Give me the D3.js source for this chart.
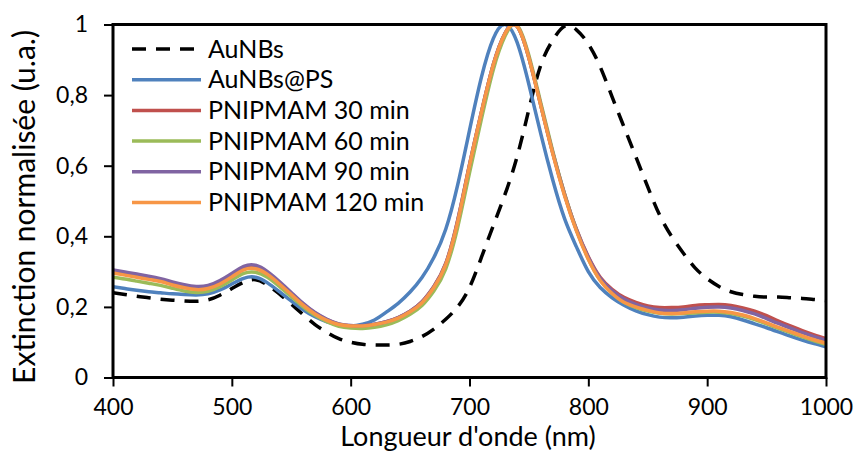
<!DOCTYPE html>
<meta charset="utf-8">
<script src="https://d3js.org/d3.v7.min.js"></script>
<style>
  body { margin: 0; background: #fff; }
  text { font-family: Lato, "Open Sans", sans-serif; fill: #000; }
</style>
<div id="my_dataviz"></div>
<script>
  // wavelengths (nm), one point every 10 nm
  var wavelengths = d3.range(400, 1001, 10);

  var auNBs = [0.240, 0.235, 0.230, 0.226, 0.222, 0.219, 0.217, 0.216, 0.220, 0.233,
    0.252, 0.270, 0.277, 0.262, 0.237, 0.208, 0.178, 0.150, 0.128, 0.110,
    0.100, 0.094, 0.092, 0.092, 0.094, 0.102, 0.116, 0.137, 0.165, 0.200,
    0.255, 0.340, 0.430, 0.520, 0.625, 0.760, 0.885, 0.955, 0.995, 0.985,
    0.945, 0.880, 0.795, 0.710, 0.625, 0.540, 0.460, 0.400, 0.352, 0.310,
    0.280, 0.258, 0.243, 0.235, 0.230, 0.228, 0.228, 0.226, 0.224, 0.221, 0.218];

  var auNBsPS = [0.257, 0.252, 0.247, 0.243, 0.240, 0.237, 0.235, 0.234, 0.237, 0.248,
    0.265, 0.281, 0.284, 0.268, 0.243, 0.217, 0.192, 0.172, 0.158, 0.149,
    0.146, 0.151, 0.163, 0.185, 0.210, 0.242, 0.283, 0.340, 0.420, 0.545,
    0.700, 0.850, 0.960, 1.000, 0.950, 0.830, 0.690, 0.560, 0.450, 0.370,
    0.300, 0.255, 0.226, 0.205, 0.189, 0.178, 0.171, 0.169, 0.171, 0.174,
    0.176, 0.176, 0.172, 0.163, 0.152, 0.141, 0.129, 0.117, 0.106, 0.096, 0.087];

  var pnipmam30 = [0.300, 0.294, 0.288, 0.282, 0.276, 0.266, 0.258, 0.253, 0.256, 0.269,
    0.289, 0.309, 0.312, 0.296, 0.268, 0.238, 0.208, 0.183, 0.164, 0.151,
    0.146, 0.146, 0.150, 0.158, 0.170, 0.188, 0.215, 0.258, 0.323, 0.445,
    0.603, 0.752, 0.887, 0.976, 0.995, 0.905, 0.772, 0.638, 0.520, 0.420,
    0.342, 0.284, 0.250, 0.227, 0.213, 0.203, 0.198, 0.198, 0.200, 0.204,
    0.206, 0.207, 0.204, 0.197, 0.188, 0.175, 0.160, 0.146, 0.133, 0.121, 0.110];

  var pnipmam60 = [0.284, 0.279, 0.273, 0.267, 0.261, 0.253, 0.245, 0.241, 0.244, 0.257,
    0.276, 0.295, 0.298, 0.284, 0.258, 0.229, 0.200, 0.176, 0.158, 0.145,
    0.140, 0.139, 0.142, 0.149, 0.161, 0.179, 0.204, 0.245, 0.308, 0.425,
    0.580, 0.732, 0.872, 0.968, 0.998, 0.912, 0.778, 0.642, 0.520, 0.418,
    0.336, 0.276, 0.238, 0.213, 0.198, 0.188, 0.182, 0.180, 0.181, 0.183,
    0.185, 0.185, 0.181, 0.174, 0.164, 0.152, 0.139, 0.127, 0.115, 0.104, 0.094];

  var pnipmam90 = [0.305, 0.299, 0.293, 0.287, 0.280, 0.271, 0.263, 0.258, 0.261, 0.275,
    0.295, 0.315, 0.318, 0.300, 0.272, 0.241, 0.210, 0.184, 0.165, 0.152,
    0.147, 0.147, 0.151, 0.158, 0.170, 0.188, 0.214, 0.257, 0.322, 0.443,
    0.602, 0.751, 0.886, 0.976, 0.995, 0.905, 0.771, 0.637, 0.518, 0.418,
    0.340, 0.281, 0.246, 0.222, 0.207, 0.197, 0.191, 0.190, 0.192, 0.196,
    0.199, 0.200, 0.197, 0.190, 0.180, 0.167, 0.153, 0.140, 0.127, 0.116, 0.105];

  var pnipmam120 = [0.296, 0.290, 0.284, 0.278, 0.272, 0.262, 0.254, 0.249, 0.252, 0.265,
    0.285, 0.305, 0.308, 0.292, 0.265, 0.235, 0.205, 0.180, 0.162, 0.150,
    0.146, 0.146, 0.150, 0.157, 0.168, 0.186, 0.212, 0.255, 0.320, 0.440,
    0.600, 0.750, 0.885, 0.975, 0.995, 0.905, 0.770, 0.635, 0.515, 0.415,
    0.335, 0.275, 0.238, 0.213, 0.200, 0.190, 0.183, 0.181, 0.183, 0.186,
    0.188, 0.188, 0.184, 0.177, 0.167, 0.155, 0.142, 0.130, 0.118, 0.107, 0.097];

  var seriesNames = ["AuNBs", "AuNBs@PS", "PNIPMAM 30 min", "PNIPMAM 60 min", "PNIPMAM 90 min", "PNIPMAM 120 min"];
  var seriesColors = ["#000000", "#4f81bd", "#c0504d", "#9bbb59", "#8064a2", "#f79646"];
  var seriesValues = [auNBs, auNBsPS, pnipmam30, pnipmam60, pnipmam90, pnipmam120];

  var xTicks = [400, 500, 600, 700, 800, 900, 1000];
  var yTicks = [0, 0.2, 0.4, 0.6, 0.8, 1];

  var W = 857, H = 454;
  var mLeft = 113, mRight = 826, mTop = 24.5, mBottom = 377.5;

  var svg = d3.select("#my_dataviz")
    .append("svg")
      .attr("width", W)
      .attr("height", H);

  var x = d3.scaleLinear().domain([400, 1000]).range([mLeft, mRight]);
  var y = d3.scaleLinear().domain([0, 1]).range([mBottom, mTop]);

  svg.append("clipPath").attr("id", "plotclip")
    .append("rect")
      .attr("x", mLeft).attr("y", mTop - 1)
      .attr("width", mRight - mLeft).attr("height", mBottom - mTop + 1);

  var line = d3.line()
    .x(function(d) { return x(d[0]); })
    .y(function(d) { return y(d[1]); })
    .curve(d3.curveNatural);

  var plot = svg.append("g").attr("clip-path", "url(#plotclip)");

  seriesValues.forEach(function(vals, i) {
    var pts = wavelengths.map(function(w, j) { return [w, vals[j]]; });
    plot.append("path")
      .datum(pts)
      .attr("fill", "none")
      .attr("stroke", seriesColors[i])
      .attr("stroke-width", 3.5)
      .attr("stroke-dasharray", i == 0 ? "14,10" : null)
      .attr("stroke-linejoin", "round")
      .attr("d", line);
  });

  // axes
  var xAxis = svg.append("g")
    .attr("transform", "translate(0," + mBottom + ")")
    .call(d3.axisBottom(x).tickValues(xTicks).tickSize(9).tickPadding(8).tickFormat(d3.format("d")));
  var yAxis = svg.append("g")
    .attr("transform", "translate(" + mLeft + ",0)")
    .call(d3.axisLeft(y).tickValues(yTicks).tickSize(9).tickPadding(16)
      .tickFormat(function(d) { return d3.format("~g")(d).replace(".", ","); }));

  [xAxis, yAxis].forEach(function(a) {
    a.select(".domain").remove();
    a.selectAll(".tick line").attr("stroke", "#000").attr("stroke-width", 2);
    a.selectAll(".tick text").style("font-size", "23px").attr("fill", "#000");
  });
  xAxis.selectAll(".tick text").attr("dy", "0.9em");

  // plot border
  svg.append("rect")
    .attr("x", mLeft).attr("y", mTop)
    .attr("width", mRight - mLeft).attr("height", mBottom - mTop)
    .attr("fill", "none")
    .attr("stroke", "#000")
    .attr("stroke-width", 3);

  // axis titles
  svg.append("text")
    .attr("x", 468).attr("y", 446)
    .attr("text-anchor", "middle")
    .style("font-size", "27px")
    .text("Longueur d'onde (nm)");

  svg.append("text")
    .attr("transform", "translate(35,207)rotate(-90)")
    .attr("text-anchor", "middle")
    .style("font-size", "30px")
    .text("Extinction normalisée (u.a.)");

  // legend
  var legend = svg.append("g");
  seriesNames.forEach(function(name, i) {
    var ly = 49 + i * 30.7;
    legend.append("line")
      .attr("x1", 132).attr("x2", 201)
      .attr("y1", ly).attr("y2", ly)
      .attr("stroke", seriesColors[i])
      .attr("stroke-width", 3.5)
      .attr("stroke-dasharray", i == 0 ? "14,10" : null);
    legend.append("text")
      .attr("x", 208).attr("y", ly + 8.5)
      .style("font-size", "25px")
      .text(name);
  });
</script>
